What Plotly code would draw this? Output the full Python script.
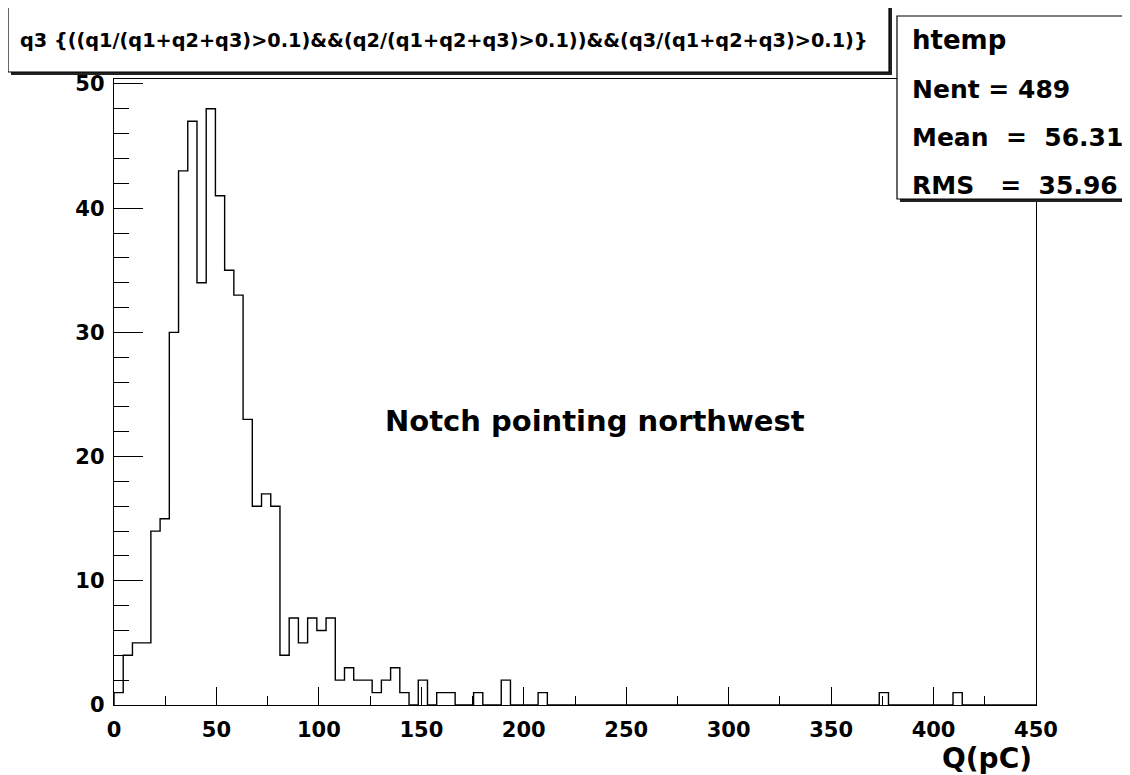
import numpy as np
import plotly.graph_objects as go

# ---- data ----
x_min = 0.0
x_max = 450.0
n_bins = 100
counts = [1, 4, 5, 5, 14, 15, 30, 43, 47, 34,
          48, 41, 35, 33, 23, 16, 17, 16, 4, 7,
          5, 7, 6, 7, 2, 3, 2, 2, 1, 2,
          3, 1, 0, 2, 0, 1, 1, 0, 0, 1,
          0, 0, 2, 0, 0, 0, 1, 0, 0, 0,
          0, 0, 0, 0, 0, 0, 0, 0, 0, 0,
          0, 0, 0, 0, 0, 0, 0, 0, 0, 0,
          0, 0, 0, 0, 0, 0, 0, 0, 0, 0,
          0, 0, 0, 1, 0, 0, 0, 0, 0, 0,
          0, 1, 0, 0, 0, 0, 0, 0, 0, 0]
x_tick_vals = [0, 50, 100, 150, 200, 250, 300, 350, 400, 450]
y_tick_vals = [0, 10, 20, 30, 40, 50]
title_text = "q3 {((q1/(q1+q2+q3)>0.1)&&(q2/(q1+q2+q3)>0.1))&&(q3/(q1+q2+q3)>0.1)}"
stats_name = "htemp"
stats_lines = ["Nent = 489", "Mean\u00a0\u00a0=\u00a0\u00a056.31", "RMS\u00a0\u00a0\u00a0=\u00a0\u00a035.96"]
x_label = "Q(pC)"
note_text = "Notch pointing northwest"

# ---- layout geometry (page pixels; the page body has an 8px margin) ----
OFF = 8
W_FIG, H_FIG = 1130 - OFF, 775 - OFF
L, R, T, B = 114, 1036, 79, 705
PW, PH = R - L, B - T

def px(x):
    return (x - L) / PW

def py(y):
    return (B - y) / PH

edges = np.linspace(x_min, x_max, n_bins + 1)
# step outline: (0,0) -> (0,c0) -> (4.5,c0) -> ... -> (450,c99) -> (450,0)
sx = [edges[0]]
sy = [0]
for i, c in enumerate(counts):
    sx += [edges[i], edges[i + 1]]
    sy += [c, c]
sx += [edges[-1]]
sy += [0]

FONT = "DejaVu Sans"

fig = go.Figure()
fig.add_trace(go.Scatter(x=sx, y=sy, mode="lines",
                         line=dict(color="black", width=1.4),
                         hoverinfo="skip", showlegend=False))

axis_common = dict(showgrid=False, zeroline=False, showline=True, mirror=True,
                   linecolor="black", linewidth=1.4, ticks="inside",
                   tickcolor="black", tickwidth=1.3,
                   tickfont=dict(family=FONT, size=21, color="black", weight="bold"))

fig.update_xaxes(range=[x_min, x_max], tickvals=x_tick_vals, ticklen=18,
                 ticklabelstandoff=6,
                 minor=dict(dtick=25, ticklen=9, ticks="inside", tickcolor="black", tickwidth=1.3),
                 **axis_common)
fig.update_yaxes(range=[0, 50.4], tickvals=y_tick_vals, ticklen=29,
                 ticklabelstandoff=4,
                 minor=dict(dtick=2, ticklen=15, ticks="inside", tickcolor="black", tickwidth=1.3),
                 **axis_common)

shapes = []
def box(x0, y0, x1, y1, shadow=3):
    shapes.append(dict(type="rect", xref="paper", yref="paper", layer="above",
                       x0=px(x0 + shadow), x1=px(x1 + shadow), y0=py(y0 + shadow), y1=py(y1 + shadow),
                       fillcolor="#222", line=dict(width=0)))
    shapes.append(dict(type="rect", xref="paper", yref="paper", layer="above",
                       x0=px(x0), x1=px(x1), y0=py(y0), y1=py(y1),
                       fillcolor="white", line=dict(color="black", width=1.2)))

box(8, 5, 889, 72)
box(897, 16, 1145, 199)

ann = []
def text(t, x, y, size, xanchor="left"):
    ann.append(dict(text=t, xref="paper", yref="paper", x=px(x), y=py(y),
                    xanchor=xanchor, yanchor="middle", showarrow=False,
                    font=dict(family=FONT, size=size, color="black", weight="bold")))

text(title_text, 18, 41, 19.3)
text(stats_name, 910, 40, 26)
for i, s in enumerate(stats_lines):
    text(s, 910, 90 + i * 47.5, 25)
text(note_text, 383, 421, 29)
text(x_label, 1034, 759, 28, xanchor="right")

fig.update_layout(width=W_FIG, height=H_FIG, autosize=False,
                  margin=dict(l=L - OFF, r=1130 - R, t=T - OFF, b=775 - B),
                  paper_bgcolor="white", plot_bgcolor="white",
                  shapes=shapes, annotations=ann, showlegend=False)

fig.write_html("out.html")
